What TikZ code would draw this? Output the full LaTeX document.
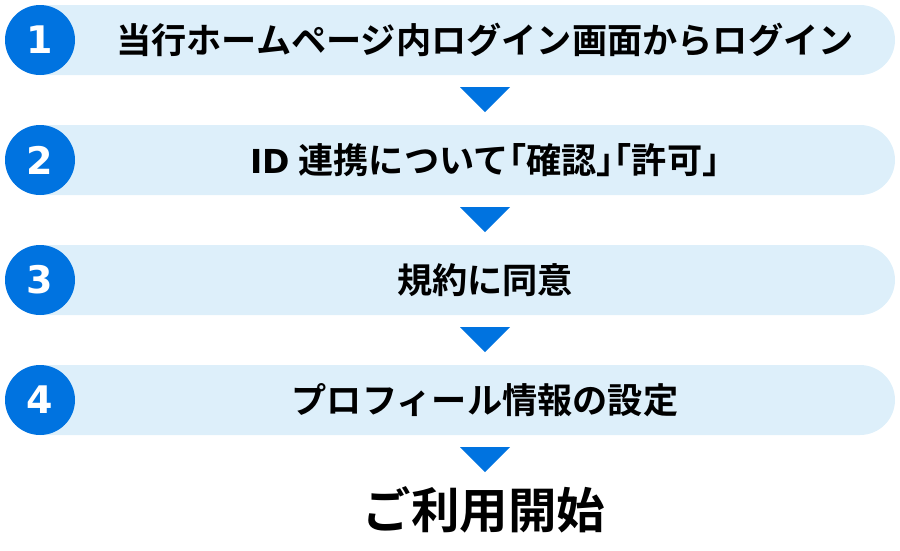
\documentclass[tikz,border=0pt]{standalone}
\usepackage{fontspec}
\newfontfamily\jpfont{Noto Sans CJK JP Bold}
\newfontfamily\jphalt[RawFeature=+halt]{Noto Sans CJK JP Bold}
\newfontfamily\numfont{DejaVu Sans Bold}
\definecolor{stepblue}{HTML}{0073E0}
\definecolor{barblue}{HTML}{DDEFFA}
\tikzset{
  numcircle/.style={circle, fill=stepblue, draw=none, minimum size=70pt, inner sep=0pt, text=white, font=\numfont\fontsize{38}{38}\selectfont},
  steptext/.style={font=\jpfont\fontsize{35.2}{35.2}\selectfont, text=black, inner sep=0pt, anchor=center},
  downtri/.style={fill=stepblue, draw=none},
}
\begin{document}
\begin{tikzpicture}[x=1pt,y=-1pt]
\useasboundingbox (0,0) rectangle (900,550);
\foreach \i/\t in {1/{当行ホームページ内ログイン画面からログイン},2/{{\numfont\fontsize{33}{33}\selectfont ID}\hspace{0.25em}{\jphalt 連携について「確認」「許可」}},3/{規約に同意},4/{プロフィール情報の設定}}{
  \pgfmathsetmacro{\cy}{40+120*(\i-1)}
  \fill[barblue] (40,\cy-35) -- (860,\cy-35) arc[start angle=-90,end angle=90,radius=35] -- (40,\cy+35) -- cycle;
  \node[numcircle] (n\i) at (40,\cy) {\i};
  \node[steptext] (t\i) at (485,\cy) {\t};
  \fill[downtri] (460,\cy+47) -- (510,\cy+47) -- (485,\cy+72) -- cycle;
}
\node[font=\jpfont\fontsize{48.5}{48.5}\selectfont, inner sep=0pt] (end) at (484,510) {ご利用開始};
\end{tikzpicture}
\end{document}
